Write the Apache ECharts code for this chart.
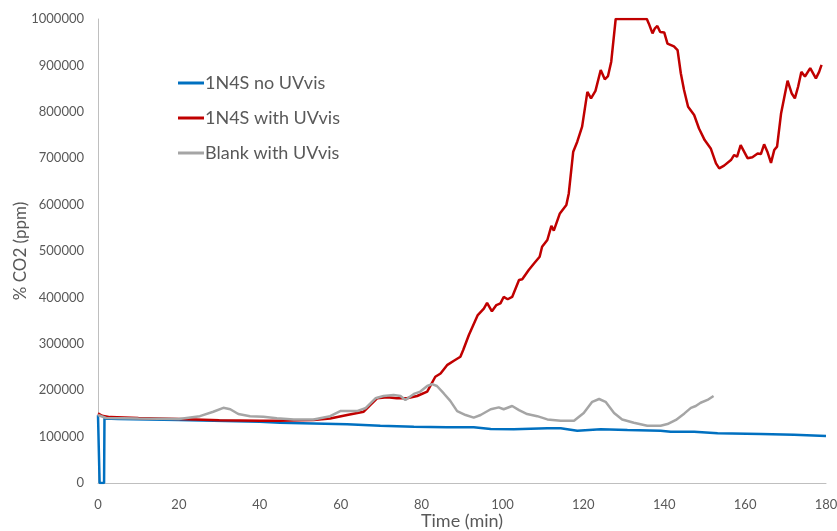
<!DOCTYPE html>
<html>
<head>
<meta charset="utf-8">
<script src="https://cdn.jsdelivr.net/npm/echarts@6/dist/echarts.min.js"></script>
<style>html,body{margin:0;padding:0;background:#fff}#c{width:837px;height:531px}</style>
</head>
<body>
<div id="c"></div>
<script>
var seriesNames = ['1N4S no UVvis', '1N4S with UVvis', 'Blank with UVvis'];
var xTicks = [0, 20, 40, 60, 80, 100, 120, 140, 160, 180];
var yTicks = [0, 100000, 200000, 300000, 400000, 500000, 600000, 700000, 800000, 900000, 1000000];

var blueTime = [0, 0.4, 1.5, 1.6, 5, 20, 40, 45, 61.6, 69.8, 78.1, 86.3, 92.9, 97.1, 102.8, 111.1, 114.4, 118.5, 124.3, 130.9, 139.1, 141.6, 147.4, 153.2, 163.9, 172.1, 180];
var blueVal = [146000, 0, 0, 139000, 138000, 136000, 132000, 130000, 126500, 123500, 121300, 120000, 120000, 116400, 115700, 117800, 118000, 112700, 115700, 114200, 112700, 110500, 110500, 107000, 105600, 104000, 101300];

var redTime = [0, 1, 3, 10, 20, 30, 40, 45, 50, 53.3, 57.4, 61.6, 65.7, 67.3, 69, 71.5, 73.9, 76.4, 78.9, 81.4, 83.4, 84.7, 86.3, 88, 89.6, 90.3, 91.7, 93.9, 95.4, 96.2, 97.4, 98.5, 99.5, 100.3, 101.3, 102.4, 104.1, 104.9, 106.5, 107.8, 109.2, 109.8, 111.1, 112.1, 112.7, 114.2, 115.8, 116.4, 117.5, 118.5, 119.7, 121.0, 121.9, 123.0, 124.3, 125.3, 126.1, 126.9, 128.0, 135.7, 136.2, 137.1, 137.7, 138.3, 139.0, 140.0, 140.8, 142.4, 143.3, 144.1, 144.9, 145.9, 147.4, 148.6, 150.0, 151.5, 152.8, 153.6, 154.8, 156.5, 157.3, 158.0, 158.9, 160.6, 161.8, 163.1, 163.9, 164.7, 165.5, 166.4, 167.2, 167.9, 168.9, 169.7, 170.5, 171.5, 172.3, 173.1, 173.9, 174.8, 176.1, 177.5, 178.3, 178.9];
var redVal = [150000, 145000, 142000, 140000, 138000, 135500, 134000, 134000, 135000, 136000, 139000, 146500, 153600, 168000, 182500, 184700, 182500, 182500, 187500, 197000, 229000, 236000, 254000, 263500, 272000, 286600, 319000, 362000, 376000, 388000, 370000, 383500, 387000, 401000, 396000, 401000, 437500, 439000, 459000, 473000, 487700, 509000, 523700, 554000, 544000, 581000, 599000, 624000, 714000, 735500, 768000, 843000, 829000, 845000, 890000, 870000, 877000, 908000, 1000000, 1000000, 990000, 969000, 980000, 985000, 972000, 971000, 947000, 941000, 933000, 883000, 847000, 811000, 793000, 764000, 739000, 721000, 689000, 678000, 684000, 696000, 707000, 703000, 728000, 700000, 702000, 710000, 709000, 730000, 714000, 690000, 717500, 725000, 797000, 832000, 867000, 840000, 829000, 854000, 886000, 876000, 894000, 872000, 886000, 901000];

var grayTime = [0, 2, 10, 20, 25.2, 28.5, 31, 32.7, 34.7, 37.6, 40.9, 44.2, 48.4, 53.3, 57.4, 59.9, 64.0, 66.1, 68.6, 70.6, 73.1, 74.8, 76.0, 78.1, 79.7, 81.4, 82.6, 83.8, 85.5, 87.1, 88.8, 90.9, 92.9, 94.6, 97.1, 99.1, 100.3, 102.4, 104.1, 106.1, 108.6, 111.1, 114.4, 117.7, 120.1, 122.2, 123.9, 125.5, 127.6, 129.6, 132.5, 135.8, 139.1, 140.8, 142.9, 145.0, 146.6, 147.8, 149.0, 150.7, 152.2];
var grayVal = [146500, 140000, 139000, 138000, 144000, 153600, 162000, 159000, 148600, 144000, 143000, 139400, 137000, 137000, 144000, 155000, 155000, 161000, 182500, 187500, 189600, 187500, 179000, 192000, 197000, 209000, 213000, 209000, 193000, 177000, 155000, 146500, 141000, 146500, 159000, 163000, 159000, 166000, 157000, 148600, 144000, 137000, 134000, 134000, 151000, 175000, 181000, 175000, 151000, 137000, 130000, 123500, 123500, 127000, 136000, 150000, 162000, 166000, 173000, 179000, 187500];

function zip(t, v) { return t.map(function (x, i) { return [x, v[i]]; }); }

var colors = ['#0070C0', '#C00000', '#A5A5A5'];
var font = 'Lato, "Open Sans", sans-serif';

var chart = echarts.init(document.getElementById('c'), null, {renderer: 'canvas'});
chart.setOption({
  animation: false,
  color: colors,
  grid: {left: 98, right: 11, top: 19, bottom: 48, containLabel: false, outerBoundsMode: 'none'},
  legend: {
    orient: 'vertical',
    left: 173, top: 69,
    itemWidth: 26, itemHeight: 3, itemGap: 17,
    icon: 'rect',
    textStyle: {fontFamily: font, fontSize: 18, color: '#595959', padding: [0, 0, 0, -4]},
    data: seriesNames
  },
  xAxis: {
    type: 'value', min: 0, max: 180, interval: 20,
    name: 'Time (min)', nameLocation: 'middle', nameGap: 29, nameMoveOverlap: false,
    nameTextStyle: {fontFamily: font, fontSize: 18, color: '#595959'},
    axisLine: {show: true, lineStyle: {color: '#BFBFBF', width: 1}},
    axisTick: {show: false},
    splitLine: {show: false},
    axisLabel: {fontFamily: font, fontSize: 13, color: '#595959', margin: 15,
      formatter: function (v) { return xTicks.indexOf(v) >= 0 ? String(v) : ''; }}
  },
  yAxis: {
    type: 'value', min: 0, max: 1000000, interval: 100000,
    name: '% CO2 (ppm)', nameLocation: 'middle', nameGap: 69, nameRotate: 90, nameMoveOverlap: false,
    nameTextStyle: {fontFamily: font, fontSize: 17, color: '#595959'},
    axisLine: {show: true, lineStyle: {color: '#BFBFBF', width: 1}},
    axisTick: {show: false},
    splitLine: {show: false},
    axisLabel: {fontFamily: font, fontSize: 13, color: '#595959', margin: 14,
      formatter: function (v) { return yTicks.indexOf(v) >= 0 ? String(v) : ''; }}
  },
  series: [
    {name: seriesNames[0], type: 'line', data: zip(blueTime, blueVal), showSymbol: false, symbol: 'none', lineStyle: {width: 2.5, color: colors[0]}, z: 2},
    {name: seriesNames[1], type: 'line', data: zip(redTime, redVal), showSymbol: false, symbol: 'none', lineStyle: {width: 2.5, color: colors[1]}, z: 3},
    {name: seriesNames[2], type: 'line', data: zip(grayTime, grayVal), showSymbol: false, symbol: 'none', lineStyle: {width: 2.5, color: colors[2]}, z: 4}
  ]
});
</script>
</body>
</html>
